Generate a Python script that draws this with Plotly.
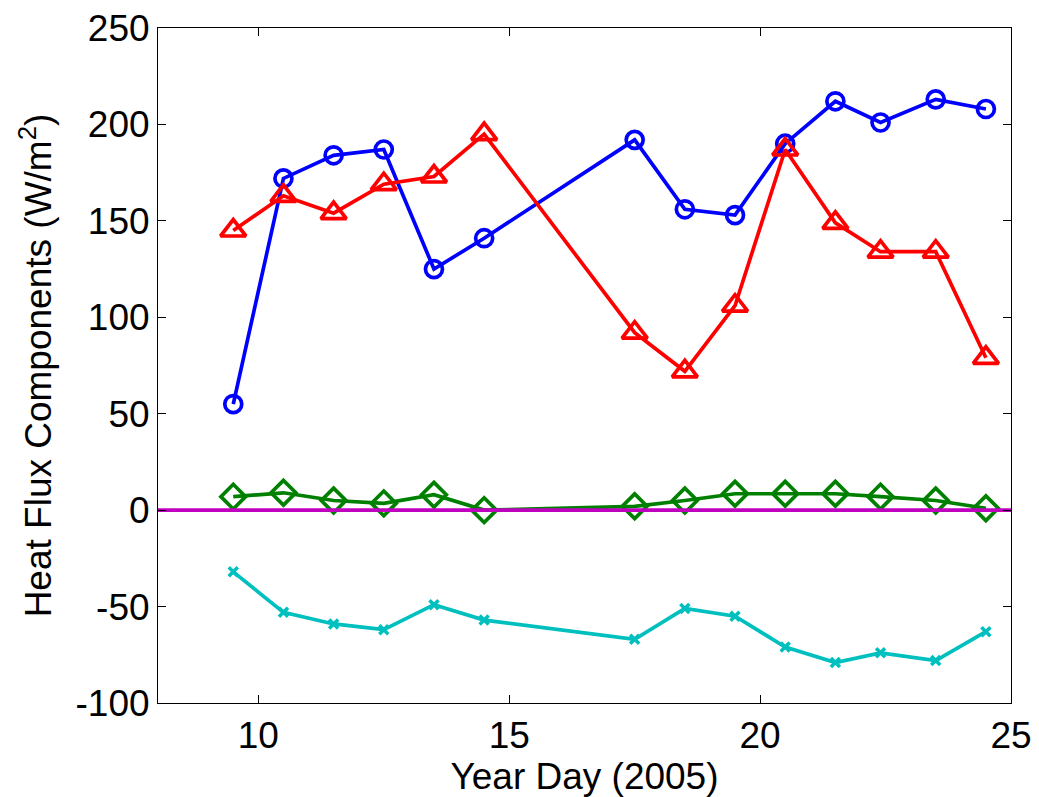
import plotly.graph_objects as go

year_day = [9.5, 10.5, 11.5, 12.5, 13.5, 14.5, 17.5, 18.5, 19.5, 20.5, 21.5, 22.4, 23.5, 24.5]
blue_vals = [55, 172, 184, 187, 125, 141, 192, 156, 153, 190, 212, 201, 213, 208]
red_vals = [145, 163, 154, 169, 173, 195, 92, 72, 106, 187, 149, 134, 134, 79]
green_vals = [7, 9, 5, 3.5, 8, 0, 2, 5, 8.5, 8.5, 8.5, 7, 5, 1]
cyan_vals = [-32, -53, -59, -62, -49, -57, -67, -51, -55, -71, -79, -74, -78, -63]
zero_x = [8, 25]
zero_y = [0, 0]

x_ticks = [10, 15, 20, 25]
y_ticks = [-100, -50, 0, 50, 100, 150, 200, 250]

FONT = "Liberation Sans, Arial, sans-serif"
LW = 3.7

fig = go.Figure()
fig.add_trace(go.Scatter(
    x=year_day, y=blue_vals, mode="lines+markers",
    line=dict(color="#0000FF", width=LW),
    marker=dict(symbol="circle-open", size=17, color="#0000FF", line=dict(width=LW, color="#0000FF")),
))
fig.add_trace(go.Scatter(
    x=year_day, y=red_vals, mode="lines+markers",
    line=dict(color="#FF0000", width=LW),
    marker=dict(symbol="triangle-up-open", size=22, color="#FF0000", line=dict(width=LW, color="#FF0000")),
))
fig.add_trace(go.Scatter(
    x=year_day, y=green_vals, mode="lines+markers",
    line=dict(color="#008000", width=LW),
    marker=dict(symbol="diamond-open", size=19, color="#008000", line=dict(width=LW, color="#008000")),
))
fig.add_trace(go.Scatter(
    x=year_day, y=cyan_vals, mode="lines+markers",
    line=dict(color="#00BFBF", width=LW),
    marker=dict(symbol="x-thin-open", size=9, color="#00BFBF", line=dict(width=3.5, color="#00BFBF")),
))
fig.add_trace(go.Scatter(
    x=zero_x, y=zero_y, mode="lines",
    line=dict(color="#BF00BF", width=LW),
))

axis_common = dict(
    showline=True, linecolor="black", linewidth=1, mirror="ticks",
    ticks="inside", ticklen=8, tickcolor="black", tickwidth=1,
    showgrid=False, zeroline=False, automargin=False,
    tickfont=dict(family=FONT, size=37, color="black"),
)

fig.update_layout(
    width=1039, height=797,
    margin=dict(l=158, r=28, t=28, b=94, autoexpand=False),
    paper_bgcolor="white", plot_bgcolor="white",
    showlegend=False,
    xaxis=dict(range=[8, 25], tickvals=x_ticks, ticktext=[str(v) for v in x_ticks],
               title=dict(text="Year Day (2005)", font=dict(family=FONT, size=37, color="black"), standoff=4),
               **axis_common),
    yaxis=dict(range=[-100, 250], tickvals=y_ticks, ticktext=[str(v) for v in y_ticks],
               title=dict(text="Heat Flux Components (W/m<sup>2</sup>)", font=dict(family=FONT, size=37, color="black"), standoff=12),
               **axis_common),
)

fig.write_html("out.html")
